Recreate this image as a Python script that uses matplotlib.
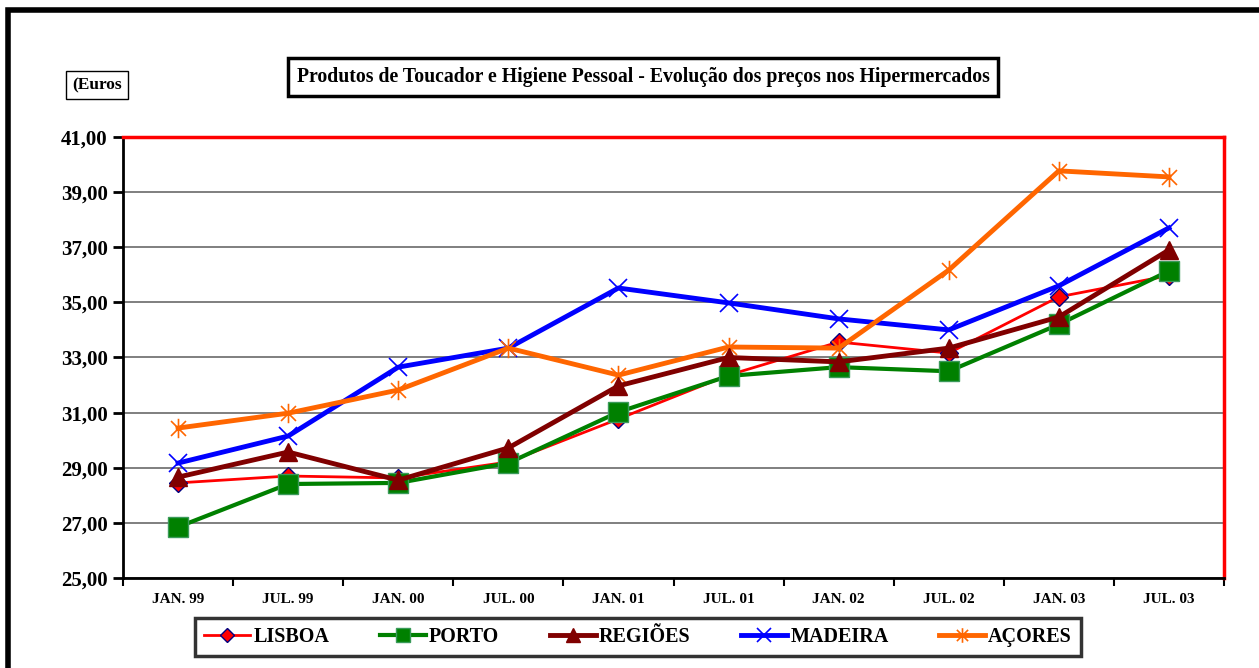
"""Produtos de Toucador e Higiene Pessoal - price evolution chart."""

import numpy as np
import matplotlib
matplotlib.use("Agg")
import matplotlib.pyplot as plt
from matplotlib.path import Path
from matplotlib.patches import Rectangle
from matplotlib.ticker import FuncFormatter

plt.rcParams['font.family'] = ['Liberation Serif', 'DejaVu Serif']
plt.rcParams['font.weight'] = 'bold'

periods = ['JAN. 99', 'JUL. 99', 'JAN. 00', 'JUL. 00', 'JAN. 01',
           'JUL. 01', 'JAN. 02', 'JUL. 02', 'JAN. 03', 'JUL. 03']

lisboa = [28.45, 28.70, 28.63, 29.21, 30.77, 32.36, 33.56, 33.16, 35.20, 35.97]
porto = [26.85, 28.41, 28.45, 29.17, 31.02, 32.33, 32.65, 32.50, 34.20, 36.14]
regioes = [28.66, 29.57, 28.55, 29.72, 31.97, 33.00, 32.84, 33.34, 34.47, 36.90]
madeira = [29.17, 30.15, 32.65, 33.34, 35.52, 34.98, 34.40, 34.00, 35.60, 37.70]
acores = [30.44, 30.98, 31.82, 33.34, 32.36, 33.38, 33.34, 36.17, 39.77, 39.55]

series_names = ['LISBOA', 'PORTO', 'REGIÕES', 'MADEIRA', 'AÇORES']

# excel style asterisk: an x with a vertical bar through it
asterisk = Path([(-1, -1), (1, 1), (-1, 1), (1, -1), (0, -1.3), (0, 1.3)],
                [Path.MOVETO, Path.LINETO, Path.MOVETO, Path.LINETO,
                 Path.MOVETO, Path.LINETO])

fig = plt.figure(figsize=(12.59, 6.68), dpi=100)
ax = fig.add_axes([0.0977, 0.1347, 0.8745, 0.6603])

x = np.arange(len(periods))

ax.plot(x, lisboa, color='red', lw=2, marker='D', ms=9,
        mfc='red', mec='#000080', mew=1, label=series_names[0], zorder=3)
ax.plot(x, porto, color='#008000', lw=3, marker='s', ms=14,
        mfc='#008000', mec='#3a9a5a', mew=1, label=series_names[1], zorder=3)
ax.plot(x, regioes, color='#800000', lw=3.5, marker='^', ms=13,
        mfc='#800000', mec='#800000', label=series_names[2], zorder=4)
ax.plot(x, madeira, color='blue', lw=3.5, marker='x', ms=13,
        mec='blue', mew=1.2, label=series_names[3], zorder=3)
ax.plot(x, acores, color='#FF6600', lw=3.5, marker=asterisk, ms=14,
        mec='#FF6600', mew=1.2, label=series_names[4], zorder=3)

ax.set_xlim(-0.5, len(periods) - 0.5)
ax.set_ylim(25, 41)
ax.set_yticks(np.arange(25, 42, 2))
ax.yaxis.set_major_formatter(FuncFormatter(lambda v, p: '{:.2f}'.format(v).replace('.', ',')))
ax.yaxis.grid(True, color='#6a6a6a', lw=1.2)
ax.set_axisbelow(True)

# category labels in the middle, ticks on the boundaries
ax.set_xticks(x)
ax.set_xticklabels(periods, fontsize=11, fontweight='bold')
ax.set_xticks(np.arange(-0.5, len(periods), 1), minor=True)
ax.tick_params(axis='x', which='major', length=0, pad=11)
ax.tick_params(axis='x', which='minor', length=6, width=1.5, direction='out')
ax.tick_params(axis='y', length=7, width=2, direction='out', labelsize=15, pad=4)

ax.spines['top'].set_color('red')
ax.spines['right'].set_color('red')
ax.spines['top'].set_linewidth(2.5)
ax.spines['right'].set_linewidth(2.5)
ax.spines['left'].set_color('black')
ax.spines['left'].set_linewidth(2)
ax.spines['bottom'].set_color('black')
ax.spines['bottom'].set_linewidth(2)

# title and unit boxes
fig.text(643 / 1259, 1 - 77 / 668, 'Produtos de Toucador e Higiene Pessoal - Evolução dos preços nos Hipermercados',
         ha='center', va='center', fontsize=14.2, fontweight='bold',
         bbox=dict(boxstyle='square,pad=0.45', fc='white', ec='black', lw=2.5))
fig.text(97 / 1259, 1 - 85 / 668, '(Euros', ha='center', va='center',
         fontsize=12.5, fontweight='bold',
         bbox=dict(boxstyle='square,pad=0.35', fc='white', ec='black', lw=1))

leg = fig.legend(loc='center', bbox_to_anchor=(638 / 1259, 1 - 637 / 668), ncol=5,
                 frameon=True, fancybox=False, edgecolor='black',
                 handlelength=2.3, handletextpad=0.15, columnspacing=2.5,
                 borderpad=0.45, prop={'weight': 'bold', 'size': 14.5})
leg.get_frame().set_linewidth(2.5)
for h in leg.legend_handles:
    h.set_markersize(h.get_markersize() * 0.75)

# outer frame, running off the right and bottom edges
fig.patches.append(Rectangle((8 / 1259, -0.1), 1.2, 1.1 - 10 / 668,
                             transform=fig.transFigure, fill=False,
                             ec='black', lw=4, clip_on=False))

fig.savefig('out.png', dpi=100)
